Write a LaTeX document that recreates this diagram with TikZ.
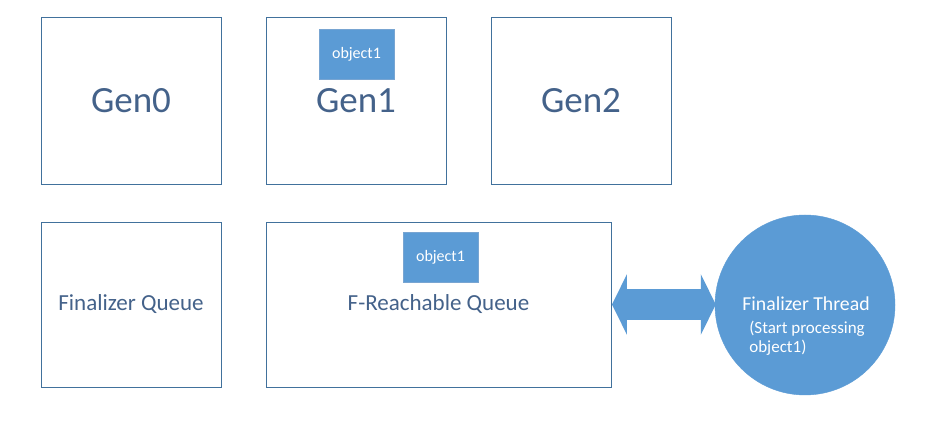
\documentclass[tikz,border=0pt]{standalone}
\usepackage{fontspec}
\setmainfont{Carlito}
\usetikzlibrary{arrows.meta}

\definecolor{boxline}{RGB}{65,113,156}
\definecolor{boxtext}{RGB}{68,98,138}
\definecolor{objfill}{RGB}{91,155,213}
\definecolor{objline}{RGB}{120,165,210}

\tikzset{
    genbox/.style={draw=boxline, line width=0.9pt, minimum width=180pt, minimum height=167pt,
        text=boxtext, font=\fontsize{37}{40}\selectfont},
    queuebox/.style={draw=boxline, line width=0.9pt, minimum height=165pt,
        text=boxtext, font=\fontsize{23}{26}\selectfont},
    objbox/.style={draw=objline, fill=objfill, minimum width=75pt, minimum height=50pt,
        text=white, font=\fontsize{16}{18}\selectfont}
}

\begin{document}
\begin{tikzpicture}[x=1pt, y=1pt]
    \useasboundingbox[fill=white] (0,0) rectangle (944,443);

    % generations
    \node[genbox] at (131,342.5) (gen0) {Gen0};
    \node[genbox] at (356,342.5) (gen1) {Gen1};
    \node[genbox] at (581,342.5) (gen2) {Gen2};
    \node[objbox] at (356.5,389) (obj1) {object1};

    % queues
    \node[queuebox, minimum width=180pt] at (131,138.5) (finq) {Finalizer Queue};
    \node[queuebox, minimum width=345pt] at (438.5,138.5) (freach) {F-Reachable Queue};
    \node[objbox] at (440.5,186) (obj2) {object1};

    % finalizer thread
    \node[circle, fill=objfill, draw=objfill, minimum size=180pt] at (805,138) (thread) {};
    \node[text=white, align=left, inner sep=0pt, font=\fontsize{17}{19}\selectfont]
        at (806,117) (threadtxt)
        {{\fontsize{19.75}{20}\selectfont Finalizer Thread}\\[4pt]
         \hspace*{7pt}(Start processing\\
         \hspace*{7pt}object1)};

    \draw[objfill, line width=31pt,
        {Triangle[length=15pt, width=60pt]}-{Triangle[length=15pt, width=60pt]}]
        ([xshift=0.5pt]freach.east) -- ([xshift=1pt]freach.east -| thread.west);
\end{tikzpicture}
\end{document}
